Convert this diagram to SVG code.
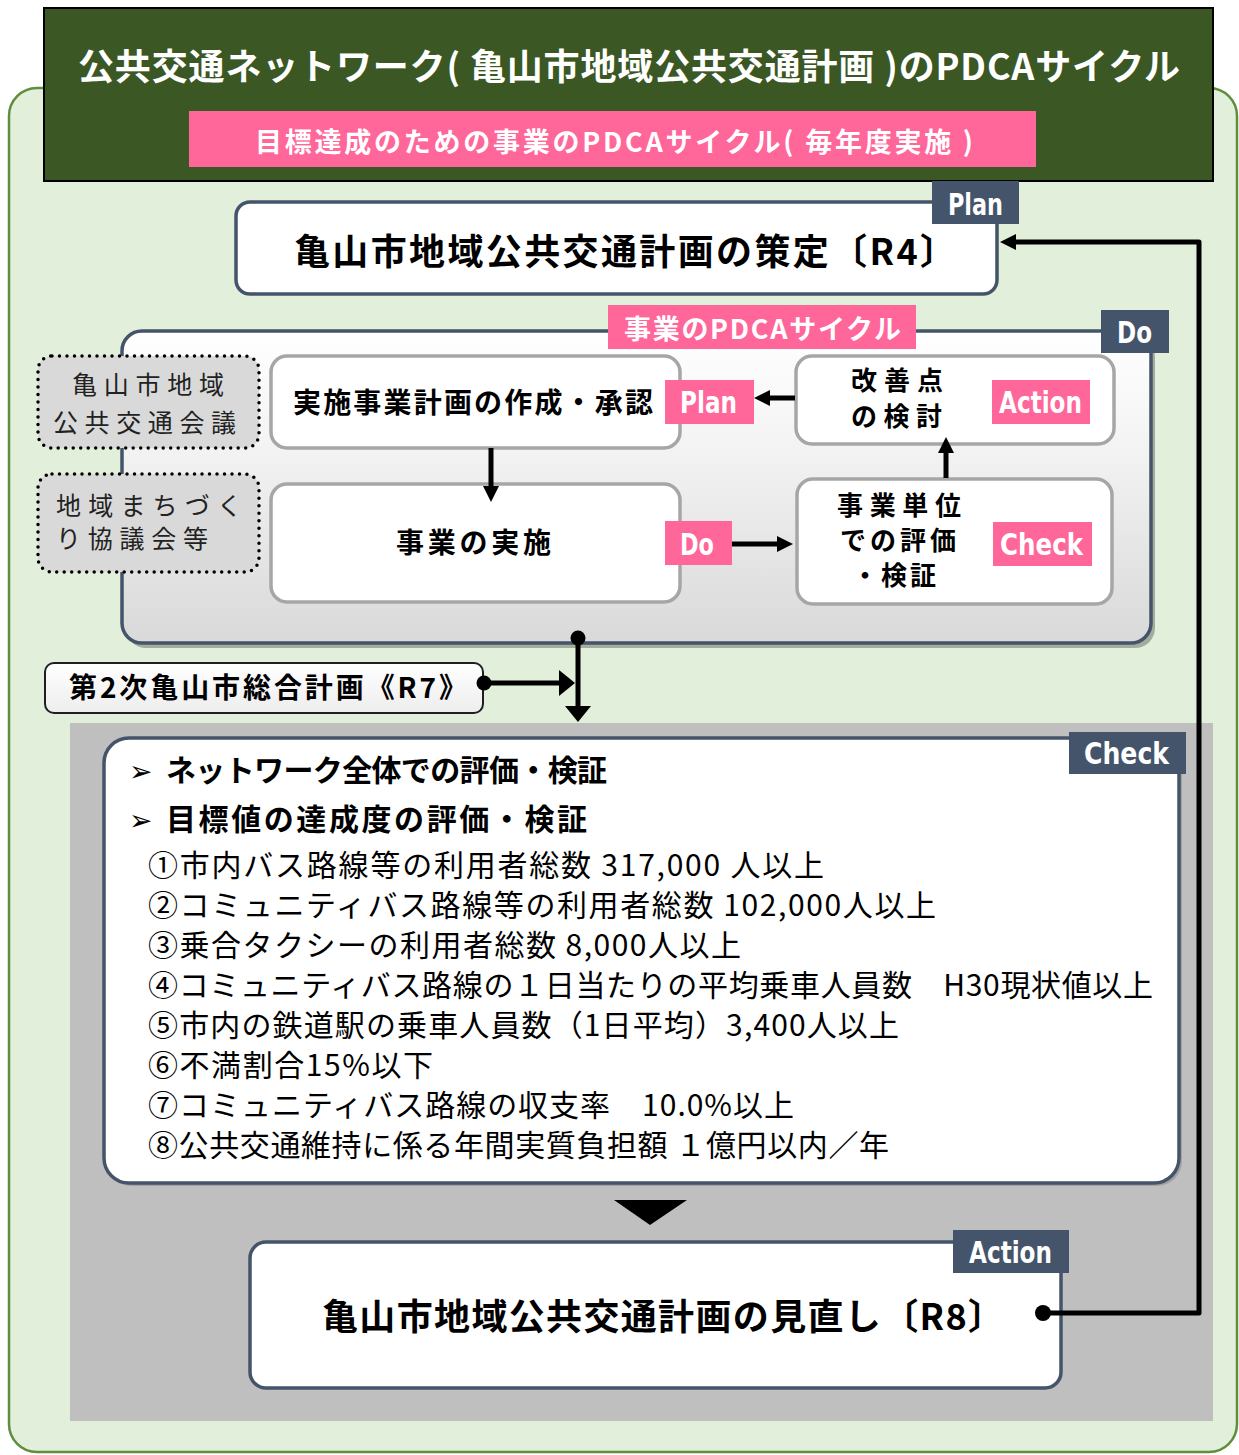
<svg xmlns="http://www.w3.org/2000/svg" width="1239" height="1455" viewBox="0 0 1239 1455">
<defs>
  <style>
    .jp{font-family:'Noto Sans CJK JP','Noto Sans CJK SC',sans-serif;}
    .b{font-weight:700;}
    .r{font-weight:400;}
    .tag{font-family:'Liberation Sans Narrow','DejaVu Sans Condensed','Liberation Sans',sans-serif;font-weight:700;font-size:30px;fill:#fff;}
    .slate{fill:#44546A;}
    .pink{fill:#FF6699;}
    .node{fill:#fff;stroke:#44546A;stroke-width:3.5;}
    .inner{fill:#fff;stroke:#A6A6A6;stroke-width:3.5;}
    .dotbox{fill:#D9D9D9;stroke:#000;stroke-width:3.5;stroke-dasharray:0 7.5;stroke-linecap:round;}
    .conn{fill:none;stroke:#000;stroke-width:5;}
    .list{font-size:30px;fill:#000;}
    .bullet{font-family:'DejaVu Sans',sans-serif;font-size:28px;fill:#000;}
  </style>
  <linearGradient id="doGrad" x1="0" y1="0" x2="0" y2="1">
    <stop offset="0" stop-color="#FFFFFF"/>
    <stop offset="0.35" stop-color="#F4F4F4"/>
    <stop offset="1" stop-color="#D9D9D9"/>
  </linearGradient>
  <linearGradient id="r7Grad" x1="0" y1="0" x2="0" y2="1">
    <stop offset="0" stop-color="#FFFFFF"/>
    <stop offset="1" stop-color="#EDEDED"/>
  </linearGradient>
  <marker id="ah" markerUnits="userSpaceOnUse" markerWidth="16" markerHeight="16" refX="6" refY="8" orient="auto">
    <path d="M0,0 L16,8 L0,16 z" fill="#000"/>
  </marker>
  <marker id="ah2" markerUnits="userSpaceOnUse" markerWidth="16" markerHeight="26" refX="6" refY="13" orient="auto">
    <path d="M0,0 L16,13 L0,26 z" fill="#000"/>
  </marker>
</defs>

<!-- background frame -->
<g id="frame">
  <rect x="9" y="88" width="1228" height="1364" rx="28" fill="#E2EFDA" stroke="#5E8E3E" stroke-width="2.5"/>
</g>

<g id="title">
  <rect x="44" y="8" width="1169" height="173" fill="#3A5724" stroke="#000" stroke-width="2"/>
  <text class="jp b" x="78" y="80" font-size="36" fill="#fff" textLength="1102" lengthAdjust="spacing">公共交通ネットワーク( 亀山市地域公共交通計画 )のPDCAサイクル</text>
  <rect x="189" y="111" width="847" height="56" class="pink"/>
  <text class="jp b" x="255" y="152" font-size="27" fill="#fff" textLength="718" lengthAdjust="spacing">目標達成のための事業のPDCAサイクル( 毎年度実施 )</text>
</g>

<g id="gray-panel">
  <rect x="70" y="723" width="1143" height="698" fill="#BFBFBF"/>
</g>

<g id="plan-node">
  <rect x="236" y="202" width="761" height="92" rx="14" class="node"/>
  <text class="jp b" x="294" y="265" font-size="36" textLength="662" lengthAdjust="spacing">亀山市地域公共交通計画の策定〔R4〕</text>
  <rect x="932" y="181" width="87" height="43" class="slate"/>
  <text class="tag" x="948" y="215" textLength="55" lengthAdjust="spacingAndGlyphs">Plan</text>
</g>

<g id="do-container">
  <rect x="126" y="336" width="1029" height="312" rx="20" fill="#000" fill-opacity="0.28"/>
  <rect x="122" y="331" width="1029" height="312" rx="20" fill="url(#doGrad)" stroke="#44546A" stroke-width="3.5"/>
  <rect x="608" y="305" width="308" height="44" class="pink"/>
  <text class="jp b" x="624" y="339" font-size="27" fill="#fff" textLength="277" lengthAdjust="spacing">事業のPDCAサイクル</text>
  <rect x="1101" y="310" width="68" height="43" class="slate"/>
  <text class="tag" x="1117" y="343" textLength="35" lengthAdjust="spacingAndGlyphs">Do</text>
</g>

<g id="council">
  <rect x="38" y="356" width="221" height="92" rx="14" class="dotbox"/>
  <text class="jp r" font-size="25" fill="#222"><tspan x="72" y="394" textLength="152" lengthAdjust="spacing">亀山市地域</tspan><tspan x="53" y="432" textLength="183" lengthAdjust="spacing">公共交通会議</tspan></text>
</g>

<g id="machizukuri">
  <rect x="38" y="474" width="221" height="98" rx="14" class="dotbox"/>
  <text class="jp r" font-size="25" fill="#222"><tspan x="56" y="515" textLength="186" lengthAdjust="spacing">地域まちづく</tspan><tspan x="56" y="548" textLength="152" lengthAdjust="spacing">り協議会等</tspan></text>
</g>

<g id="do-plan">
  <rect x="271" y="356" width="409" height="92" rx="16" class="inner"/>
  <text class="jp b" x="293" y="413" font-size="28" textLength="360" lengthAdjust="spacing">実施事業計画の作成・承認</text>
  <rect x="665" y="380" width="89" height="44" class="pink"/>
  <text class="tag" x="680" y="413" textLength="57" lengthAdjust="spacingAndGlyphs">Plan</text>
</g>

<g id="do-do">
  <rect x="271" y="484" width="409" height="118" rx="16" class="inner"/>
  <text class="jp b" x="396" y="553" font-size="28" textLength="155" lengthAdjust="spacing">事業の実施</text>
  <rect x="665" y="521" width="67" height="44" class="pink"/>
  <text class="tag" x="680" y="555" textLength="34" lengthAdjust="spacingAndGlyphs">Do</text>
</g>

<g id="do-action">
  <rect x="796" y="356" width="318" height="88" rx="16" class="inner"/>
  <text class="jp b" font-size="26"><tspan x="851" y="390" textLength="92" lengthAdjust="spacing">改善点</tspan><tspan x="851" y="426" textLength="91" lengthAdjust="spacing">の検討</tspan></text>
  <rect x="992" y="380" width="98" height="44" class="pink"/>
  <text class="tag" x="999" y="413" textLength="83" lengthAdjust="spacingAndGlyphs">Action</text>
</g>

<g id="do-check">
  <rect x="797" y="479" width="315" height="125" rx="16" class="inner"/>
  <text class="jp b" font-size="26"><tspan x="837" y="515" textLength="124" lengthAdjust="spacing">事業単位</tspan><tspan x="840" y="550" textLength="116" lengthAdjust="spacing">での評価</tspan><tspan x="852" y="585" textLength="84" lengthAdjust="spacing">・検証</tspan></text>
  <rect x="993" y="522" width="99" height="44" class="pink"/>
  <text class="tag" x="1000" y="555" textLength="83" lengthAdjust="spacingAndGlyphs">Check</text>
</g>

<g id="sogo-keikaku">
  <rect x="45" y="663" width="438" height="50" rx="9" fill="url(#r7Grad)" stroke="#1F1F1F" stroke-width="2"/>
  <text class="jp b" x="69" y="698" font-size="28" textLength="398" lengthAdjust="spacing">第2次亀山市総合計画《R7》</text>
</g>

<g id="check-node">
  <rect x="107" y="741" width="1075" height="445" rx="25" fill="#000" fill-opacity="0.15"/>
  <rect x="104" y="738" width="1075" height="445" rx="25" class="node"/>
  <rect x="1069" y="732" width="117" height="42" class="slate"/>
  <text class="tag" x="1084" y="764" textLength="85" lengthAdjust="spacingAndGlyphs">Check</text>
  <text class="bullet" x="129" y="781">➢</text>
  <text class="jp b" x="166" y="781" font-size="30" textLength="441" lengthAdjust="spacing">ネットワーク全体での評価・検証</text>
  <text class="bullet" x="129" y="830">➢</text>
  <text class="jp b" x="166" y="830" font-size="30" textLength="421" lengthAdjust="spacing">目標値の達成度の評価・検証</text>
  <text class="jp r list" x="148" y="876" textLength="676" lengthAdjust="spacing">①市内バス路線等の利用者総数 317,000 人以上</text>
  <text class="jp r list" x="148" y="916" textLength="788" lengthAdjust="spacing">②コミュニティバス路線等の利用者総数 102,000人以上</text>
  <text class="jp r list" x="148" y="956" textLength="593" lengthAdjust="spacing">③乗合タクシーの利用者総数 8,000人以上</text>
  <text class="jp r list" x="148" y="996" textLength="1005" lengthAdjust="spacing">④コミュニティバス路線の１日当たりの平均乗車人員数　H30現状値以上</text>
  <text class="jp r list" x="148" y="1036" textLength="751" lengthAdjust="spacing">⑤市内の鉄道駅の乗車人員数（1日平均）3,400人以上</text>
  <text class="jp r list" x="148" y="1076" textLength="285" lengthAdjust="spacing">⑥不満割合15%以下</text>
  <text class="jp r list" x="148" y="1116" textLength="646" lengthAdjust="spacing">⑦コミュニティバス路線の収支率　10.0%以上</text>
  <text class="jp r list" x="148" y="1156" textLength="741" lengthAdjust="spacing">⑧公共交通維持に係る年間実質負担額 １億円以内／年</text>
</g>

<g id="action-node">
  <rect x="250" y="1242" width="811" height="146" rx="16" class="node"/>
  <text class="jp b" x="322" y="1330" font-size="36" textLength="682" lengthAdjust="spacing">亀山市地域公共交通計画の見直し〔R8〕</text>
  <rect x="953" y="1230" width="116" height="43" class="slate"/>
  <text class="tag" x="969" y="1263" textLength="83" lengthAdjust="spacingAndGlyphs">Action</text>
</g>

<g id="connectors">
  <line x1="491" y1="448" x2="491" y2="492" class="conn" marker-end="url(#ah)"/>
  <line x1="795" y1="398" x2="764" y2="398" class="conn" marker-end="url(#ah)"/>
  <line x1="732" y1="544" x2="783" y2="544" class="conn" marker-end="url(#ah)"/>
  <line x1="946" y1="478" x2="946" y2="447" class="conn" marker-end="url(#ah)"/>
  <line x1="578" y1="638" x2="578" y2="712" class="conn" marker-end="url(#ah2)"/>
  <circle cx="578" cy="638" r="7.5" fill="#000"/>
  <line x1="484" y1="683" x2="565" y2="683" class="conn" marker-end="url(#ah2)"/>
  <circle cx="484" cy="683" r="7.5" fill="#000"/>
  <polygon points="614,1200 687,1200 650,1225" fill="#000"/>
  <path d="M1043,1313 H1199 V242 H1010" class="conn" stroke-linejoin="round" marker-end="url(#ah)"/>
  <circle cx="1043" cy="1313" r="8" fill="#000"/>
</g>
</svg>
